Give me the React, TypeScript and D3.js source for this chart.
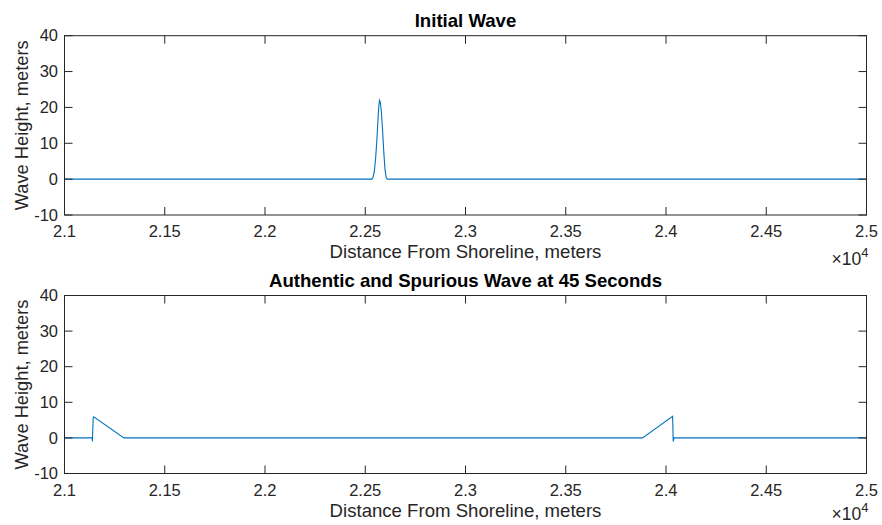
import React from 'react';
import * as d3 from 'd3';

// tick values (x axis shown in units of 10^4 m)
const xTickLabels = ['2.1', '2.15', '2.2', '2.25', '2.3', '2.35', '2.4', '2.45', '2.5'];
const xTicks = [21000, 21500, 22000, 22500, 23000, 23500, 24000, 24500, 25000];
const yTicks = [-10, 0, 10, 20, 30, 40];

// initial wave: distance (m) and height (m)
const initialX = [21000, 22533, 22538, 22545, 22552, 22558, 22563, 22567, 22571, 22575, 22580, 22586, 22592, 22598, 22604, 22610, 25000];
const initialH = [0, 0, 0.4, 2, 6, 11, 16, 20, 22, 21.5, 19, 14, 8, 3, 0.5, 0, 0];

// wave at 45 s: left spurious + right authentic
const laterX = [21000, 21138, 21139, 21143, 21146, 21296, 23883, 24033, 24036, 24040, 25000];
const laterH = [0, 0, -1, 5.5, 5.9, 0, 0, 6.1, -1, 0, 0];

const W = 882;
const H = 525;
const left = 64.5;
const right = 866.5;
const font = '"Liberation Sans", Arial, Helvetica, sans-serif';
const axisColor = '#262626';
const lineColor = '#0072BD';

function Panel({ top, bottom, title, xs, hs, expY }) {
    const x = d3.scaleLinear().domain([21000, 25000]).range([left, right]);
    const y = d3.scaleLinear().domain([-10, 40]).range([bottom, top]);
    const line = d3.line().x(d => x(d[0])).y(d => y(d[1]));
    const pts = xs.map((v, i) => [v, hs[i]]);
    const tickLen = 8;
    const midY = (top + bottom) / 2;

    return (
        <g fontFamily={font} fill={axisColor}>
            <path d={line(pts)} fill="none" stroke={lineColor} strokeWidth={1.1} />
            <rect x={left} y={top} width={right - left} height={bottom - top} fill="none" stroke={axisColor} strokeWidth={1} />
            {xTicks.map((t, i) => (
                <g key={'x' + i}>
                    <line x1={x(t)} x2={x(t)} y1={bottom} y2={bottom - tickLen} stroke={axisColor} />
                    <line x1={x(t)} x2={x(t)} y1={top} y2={top + tickLen} stroke={axisColor} />
                    <text x={x(t)} y={bottom + 22} fontSize={16.5} textAnchor="middle">{xTickLabels[i]}</text>
                </g>
            ))}
            {yTicks.map(t => (
                <g key={'y' + t}>
                    <line x1={left} x2={left + tickLen} y1={y(t)} y2={y(t)} stroke={axisColor} />
                    <line x1={right} x2={right - tickLen} y1={y(t)} y2={y(t)} stroke={axisColor} />
                    <text x={58} y={y(t)} dy="0.35em" fontSize={16.5} textAnchor="end">{t}</text>
                </g>
            ))}
            <text x={(left + right) / 2} y={top - 9} fontSize={18.6} fontWeight="bold" textAnchor="middle" fill="#000">{title}</text>
            <text x={(left + right) / 2} y={bottom + 43} fontSize={18.6} textAnchor="middle">Distance From Shoreline, meters</text>
            <text x={22} y={midY} fontSize={18.3} textAnchor="middle" dy="0.35em" transform={`rotate(-90, 22, ${midY})`}>Wave Height, meters</text>
            <text x={right + 2} y={expY} fontSize={17.5} textAnchor="end">
                ×10<tspan dy={-8} fontSize={13}>4</tspan>
            </text>
        </g>
    );
}

export default function App() {
    return (
        <svg width={W} height={H} style={{ position: 'absolute', left: 0, top: 0, background: '#fff' }}>
            <rect width={W} height={H} fill="#fff" />
            <Panel top={35.7} bottom={215} title="Initial Wave" xs={initialX} hs={initialH} expY={265} />
            <Panel top={295.5} bottom={473.5} title="Authentic and Spurious Wave at 45 Seconds" xs={laterX} hs={laterH} expY={520} />
        </svg>
    );
}
